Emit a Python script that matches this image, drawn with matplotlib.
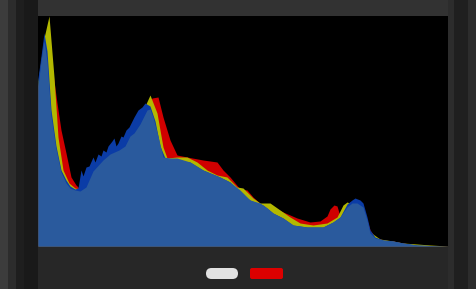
import numpy as np
import matplotlib
matplotlib.use("Agg")
import matplotlib.pyplot as plt
from matplotlib.patches import FancyBboxPatch, Rectangle

# histogram outlines, x = tone position, y = pixel count (screen units)
red_x = [0, 6, 10, 14, 19, 23, 28, 33, 38, 41, 47, 57, 67, 77, 87, 97, 107, 114, 120, 125, 132, 139,
         149, 165, 179, 185, 192, 202, 209, 215, 225, 235, 245, 259, 272, 282, 289, 292, 296, 299,
         302, 305, 312, 322, 328, 332, 337, 345, 355, 365, 379, 392, 410]
red_y = [160, 205, 222, 180, 143, 116, 93, 69, 61, 58, 60, 75, 85, 95, 100, 115, 135, 148, 149, 129,
         106, 91, 89, 86, 84, 76, 69, 57, 56, 49, 40, 39, 34, 28, 24, 25, 30, 37, 41, 40, 30, 38, 44,
         45, 30, 16, 9, 6, 5, 3, 1, 0.5, 0]

yellow_x = [0, 6, 11, 16, 20, 25, 31, 37, 42, 52, 67, 82, 97, 107, 112, 119, 125, 129, 139, 149, 159,
            169, 179, 189, 195, 199, 205, 215, 222, 232, 242, 252, 262, 275, 289, 299, 305, 309, 314,
            322, 328, 332, 342, 355, 365, 379, 392, 410]
yellow_y = [165, 208, 230, 169, 109, 76, 63, 58, 57, 65, 80, 95, 122, 140, 151, 133, 99, 88, 89, 89,
            84, 76, 71, 69, 63, 59, 58, 48, 43, 43, 36, 29, 23, 21, 23, 29, 41, 44, 42, 40, 28, 14, 7,
            5, 3, 2, 1, 0]

blue_x = [0, 3, 6, 9, 13, 18, 23, 28, 32, 37, 40, 43, 45, 48, 51, 55, 57, 60, 63, 65, 68, 70, 74, 76,
          78, 80, 83, 85, 88, 91, 94, 96, 100, 104, 107, 112, 117, 122, 127, 137, 152, 165, 182, 192,
          202, 212, 219, 225, 229, 235, 245, 255, 269, 285, 295, 302, 309, 314, 317, 322, 325, 329,
          332, 337, 345, 355, 365, 379, 392, 410]
blue_y = [168, 190, 213, 195, 136, 100, 76, 66, 60, 57, 58, 76, 70, 79, 80, 89, 84, 92, 90, 96, 94,
          100, 105, 108, 100, 103, 110, 109, 116, 119, 125, 129, 136, 139, 143, 140, 125, 100, 88, 86,
          84, 76, 69, 64, 53, 46, 43, 41, 38, 33, 28, 21, 19, 19, 24, 29, 42, 46, 48, 46, 43, 29, 16,
          9, 6, 5, 3, 1, 0.5, 0]

# area where all channels overlap
mix_x = [0, 3, 6, 9, 13, 18, 23, 28, 32, 37, 42, 48, 55, 65, 72, 81, 87, 92, 96, 102, 109, 112, 115,
         120, 125, 132, 139, 152, 165, 182, 192, 202, 212, 222, 229, 235, 245, 255, 269, 285, 295,
         302, 309, 314, 319, 325, 329, 332, 337, 345, 355, 365, 379, 392, 410]
mix_y = [160, 185, 205, 185, 130, 97, 74, 63, 58, 56, 55, 59, 75, 86, 92, 96, 100, 110, 113, 122,
         136, 137, 129, 110, 89, 88, 88, 84, 76, 69, 64, 56, 46, 43, 38, 33, 28, 21, 19, 19, 24, 29,
         39, 43, 43, 39, 26, 13, 8, 6, 5, 3, 1, 0.5, 0]

W, H = 476, 289
fig = plt.figure(figsize=(W / 100, H / 100), dpi=100)
fig.patch.set_facecolor("#2c2c2c")

# backdrop in pixel units
bg = fig.add_axes([0, 0, 1, 1], zorder=0)
bg.set_xlim(0, W)
bg.set_ylim(H, 0)
bg.axis("off")
bg.add_patch(Rectangle((0, 0), 8, H, color="#3c3c3c", lw=0))
bg.add_patch(Rectangle((16, 0), 22, H, color="#1e1e1e", lw=0))
bg.add_patch(Rectangle((24, 0), 14, H, color="#191919", lw=0))
bg.add_patch(Rectangle((454, 0), 14, H, color="#1f1f1f", lw=0))
bg.add_patch(Rectangle((38, 246), 410, 43, color="#272727", lw=0))
bg.add_patch(Rectangle((38, 0), 410, 16, color="#323232", lw=0))
bg.add_patch(FancyBboxPatch((206, 268), 32, 11, boxstyle="round,pad=0,rounding_size=5.5",
                            fc="#e2e2e2", ec="none"))
bg.add_patch(FancyBboxPatch((250, 268), 33, 11, boxstyle="round,pad=0,rounding_size=2",
                            fc="#dd0000", ec="none"))

ax = fig.add_axes([38 / W, 43 / H, 410 / W, 230 / H], zorder=1)
ax.set_facecolor("black")
ax.fill_between(red_x, red_y, color="#d00000", lw=0)
ax.fill_between(yellow_x, yellow_y, color="#b3b800", lw=0)
ax.fill_between(blue_x, blue_y, color="#0b3ca6", lw=0)
ax.fill_between(mix_x, mix_y, color="#2a5a9d", lw=0)
ax.set_xlim(0, 410)
ax.set_ylim(0, 230)
ax.set_xticks([])
ax.set_yticks([])
for s in ax.spines.values():
    s.set_visible(False)

fig.savefig("out.png", dpi=100, facecolor=fig.get_facecolor())
